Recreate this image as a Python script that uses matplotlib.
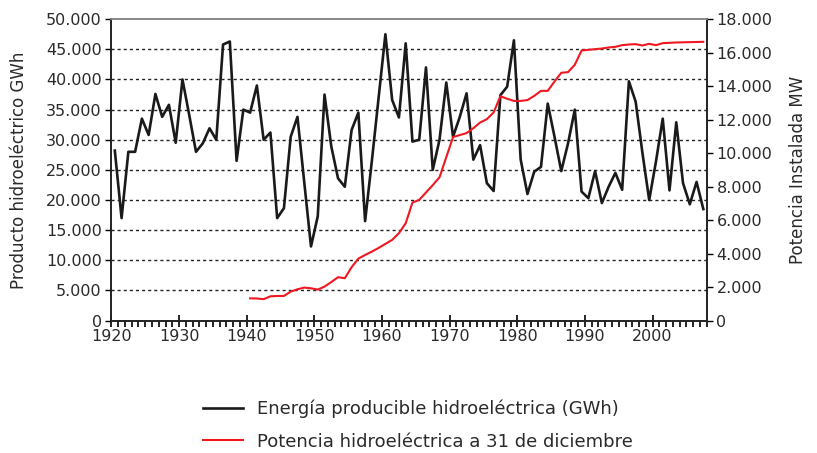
import matplotlib
matplotlib.use("Agg")
import matplotlib.pyplot as plt
from matplotlib.ticker import FuncFormatter, MultipleLocator
import numpy as np

plt.rcParams['font.family'] = ['DejaVu Sans']

years = list(range(1920, 2008))
energia = [
    28200, 17000, 28000, 28000, 33500, 30800, 37600, 33800, 35800, 29500,
    40000, 34100, 28000, 29400, 31900, 30000, 45800, 46300, 26500, 35000,
    34500, 39000, 30000, 31200, 17000, 18650, 30500, 33800, 23000, 12300,
    17300, 37500, 28900, 23600, 22200, 31600, 34500, 16500, 26500, 37000,
    47500, 36600, 33700, 46000, 29700, 30000, 42000, 25000, 30000, 39500,
    30500, 33800, 37700, 26700, 29100, 22800, 21500, 37400, 38800, 46500,
    26700, 21000, 24700, 25500, 36000, 30500, 24800, 29400, 35000, 21400,
    20300, 24800, 19500, 22200, 24500, 21700, 39700, 36300, 27800, 20000,
    26400, 33500, 21600, 32900, 22800, 19300, 23000, 18500,
]

years_pot = list(range(1940, 2008))
potencia = [
    1330, 1320, 1280, 1450, 1470, 1470, 1730, 1870, 1970, 1930,
    1850, 2030, 2300, 2590, 2530, 3185, 3700, 3920, 4120, 4340,
    4580, 4820, 5220, 5810, 7050, 7210, 7650, 8090, 8560, 9760,
    10960, 11080, 11200, 11490, 11830, 12030, 12430, 13400, 13250, 13120,
    13120, 13170, 13420, 13720, 13720, 14280, 14800, 14840, 15280, 16130,
    16170, 16210, 16250, 16310, 16350, 16450, 16490, 16510, 16430, 16530,
    16450, 16570, 16590, 16610, 16620, 16630, 16640, 16650,
]

xticks = [1920, 1930, 1940, 1950, 1960, 1970, 1980, 1990, 2000]
label_energia = "Energía producible hidroeléctrica (GWh)"
label_potencia = "Potencia hidroeléctrica a 31 de diciembre"
ylabel_left = "Producto hidroeléctrico GWh"
ylabel_right = "Potencia Instalada MW"

TXT = '#2a2a2a'
FS = 11.5

fig = plt.figure(figsize=(8.17, 4.53), dpi=100)
ax = fig.add_axes([0.1364, 0.2923, 0.7286, 0.6653])
ax2 = ax.twinx()

x_e = np.array(years) + 0.5
x_p = np.array(years_pot) + 0.5

ax.set_xlim(1920, 2008)
ax.set_ylim(0, 50000)
ax2.set_ylim(0, 18000)

# grid
for v in range(5000, 50000, 5000):
    ax.axhline(v, color='#222222', lw=1.0, ls=(0, (2.2, 2.2)), zorder=1)

l1, = ax.plot(x_e, energia, color='#1a1a1a', lw=1.9, zorder=3, label=label_energia)
l2, = ax2.plot(x_p, potencia, color='#f01820', lw=1.5, zorder=3, label=label_potencia)

fmt = FuncFormatter(lambda v, p: f"{int(round(v)):,}".replace(",", "."))
ax.yaxis.set_major_locator(MultipleLocator(5000))
ax.yaxis.set_major_formatter(fmt)
ax2.yaxis.set_major_locator(MultipleLocator(2000))
ax2.yaxis.set_major_formatter(fmt)

ax.set_xticks(xticks)
ax.set_xticklabels([str(t) for t in xticks])
ax.xaxis.set_minor_locator(MultipleLocator(1))
ax.tick_params(axis='x', which='major', direction='inout', length=8, width=1.2,
               labelsize=FS, labelcolor=TXT, pad=2)
ax.tick_params(axis='x', which='minor', direction='out', length=4, width=1.2)
ax.tick_params(axis='y', which='major', direction='out', length=4, width=1,
               labelsize=FS, labelcolor=TXT, pad=3)
ax2.tick_params(axis='y', which='major', direction='out', length=4, width=1,
                labelsize=FS, labelcolor=TXT, pad=3)

for a in (ax, ax2):
    for s in a.spines.values():
        s.set_color('#222222')
        s.set_linewidth(1.2)
ax.spines['top'].set_color('#888888')
ax2.spines['top'].set_color('#888888')

ax.set_ylabel(ylabel_left, fontsize=FS + 0.5, color=TXT, labelpad=13)
ax2.set_ylabel(ylabel_right, fontsize=FS + 0.5, color=TXT, labelpad=12)

fig.legend(handles=[l1, l2], loc='upper left', bbox_to_anchor=(203 / 817, 1 - 400 / 453),
           frameon=False, fontsize=13, handlelength=2.2, handletextpad=0.8,
           labelspacing=0.78, borderpad=0, borderaxespad=0, labelcolor=TXT)

fig.savefig('out.png', dpi=100)
